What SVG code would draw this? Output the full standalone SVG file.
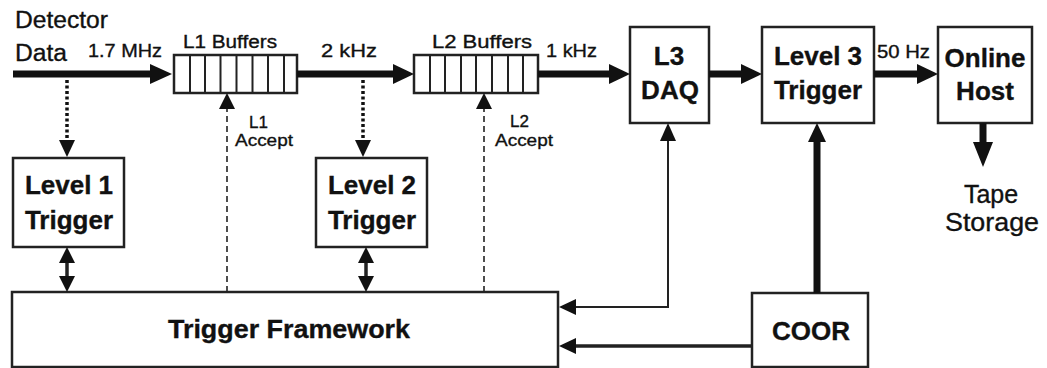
<svg xmlns="http://www.w3.org/2000/svg" width="1047" height="368" viewBox="0 0 1047 368">
<style>
.box{fill:#fff;stroke:#222;stroke-width:2.5}
.cell{stroke:#222;stroke-width:2}
.t{font-family:"Liberation Sans",Arial,sans-serif;fill:#111;stroke:#111;stroke-width:0.35}
.b{font-weight:bold;font-size:26px;text-anchor:middle}
.thick{stroke:#111;stroke-width:7;fill:none}
.dot{stroke:#111;stroke-width:3.5;stroke-dasharray:3 2.5;fill:none}
.dash{stroke:#222;stroke-width:1.6;stroke-dasharray:6 4;fill:none}
.thin{stroke:#222;stroke-width:2;fill:none}
.med{stroke:#222;stroke-width:3.5;fill:none}
.head{fill:#111}
</style>
<rect width="1047" height="368" fill="#fff"/>
<g id="labels">
<text class="t" x="15" y="28" font-size="23" textLength="93" lengthAdjust="spacingAndGlyphs">Detector</text>
<text class="t" x="15" y="61" font-size="23" textLength="52" lengthAdjust="spacingAndGlyphs">Data</text>
<text class="t" x="88" y="57" font-size="19" textLength="74" lengthAdjust="spacingAndGlyphs">1.7 MHz</text>
<text class="t" x="321" y="57" font-size="19" textLength="56" lengthAdjust="spacingAndGlyphs">2 kHz</text>
<text class="t" x="546" y="57" font-size="19" textLength="51" lengthAdjust="spacingAndGlyphs">1 kHz</text>
<text class="t" x="877" y="58" font-size="18" textLength="53" lengthAdjust="spacingAndGlyphs">50 Hz</text>
<text class="t" x="249" y="128" font-size="17">L1</text>
<text class="t" x="235" y="146" font-size="17" textLength="58" lengthAdjust="spacingAndGlyphs">Accept</text>
<text class="t" x="510" y="127" font-size="17">L2</text>
<text class="t" x="495" y="146" font-size="17" textLength="58" lengthAdjust="spacingAndGlyphs">Accept</text>
<text class="t" x="991" y="203" font-size="25" text-anchor="middle">Tape</text>
<text class="t" x="992" y="231" font-size="25" text-anchor="middle" textLength="94" lengthAdjust="spacingAndGlyphs">Storage</text>
</g>
<g id="l1buffers">
<text class="t" x="183" y="48" font-size="18" textLength="94" lengthAdjust="spacingAndGlyphs">L1 Buffers</text>
<rect class="box" x="174" y="55" width="123" height="38" stroke-width="2"/>
<path class="cell" d="M190 55V93M205 55V93M220.5 55V93M236.5 55V93M252.5 55V93M268 55V93M284 55V93"/>
</g>
<g id="l2buffers">
<text class="t" x="432" y="48" font-size="18" textLength="100" lengthAdjust="spacingAndGlyphs">L2 Buffers</text>
<rect class="box" x="414" y="55" width="124" height="38" stroke-width="2"/>
<path class="cell" d="M430 55V93M445 55V93M461 55V93M476 55V93M492 55V93M508 55V93M523 55V93"/>
</g>
<g id="level1">
<rect class="box" x="13" y="158" width="111" height="89"/>
<text class="t b" x="69" y="194">Level 1</text>
<text class="t b" x="69" y="229">Trigger</text>
</g>
<g id="level2">
<rect class="box" x="316" y="158" width="111" height="89"/>
<text class="t b" x="372" y="194">Level 2</text>
<text class="t b" x="372" y="229">Trigger</text>
</g>
<g id="l3daq">
<rect class="box" x="630" y="27" width="79" height="96"/>
<text class="t b" x="669" y="65">L3</text>
<text class="t b" x="670" y="99">DAQ</text>
</g>
<g id="level3">
<rect class="box" x="762" y="27" width="112" height="96"/>
<text class="t b" x="818" y="65">Level 3</text>
<text class="t b" x="818" y="99">Trigger</text>
</g>
<g id="online">
<rect class="box" x="938" y="27" width="94" height="96"/>
<text class="t b" x="985" y="67">Online</text>
<text class="t b" x="985" y="100">Host</text>
</g>
<g id="framework">
<rect class="box" x="12" y="292" width="546" height="75"/>
<text class="t b" x="289" y="338" textLength="242" lengthAdjust="spacingAndGlyphs">Trigger Framework</text>
</g>
<g id="coor">
<rect class="box" x="752" y="293" width="116" height="74"/>
<text class="t b" x="811" y="340">COOR</text>
</g>
<g id="connectors">
<path class="thick" d="M13 74H153"/>
<polygon class="head" points="150,64 172,74 150,84"/>
<path class="thick" d="M297 74H396"/>
<polygon class="head" points="393,64 414,74 393,84"/>
<path class="thick" d="M538 74H612"/>
<polygon class="head" points="609,64 630,74 609,84"/>
<path class="thick" d="M709 74H744"/>
<polygon class="head" points="741,64 762,74 741,84"/>
<path class="thick" d="M874 74H920"/>
<polygon class="head" points="917,64 938,74 917,84"/>
<path class="thick" d="M983 123V145"/>
<polygon class="head" points="973,142 983,167 993,142"/>
<path class="dot" d="M67 80V141"/>
<polygon class="head" points="59,140 67,157 75,140"/>
<path class="dot" d="M363 80V141"/>
<polygon class="head" points="355,140 363,157 371,140"/>
<path class="dash" d="M227 292V108"/>
<polygon class="head" points="219,109 227,93 235,109"/>
<path class="dash" d="M484 292V108"/>
<polygon class="head" points="476,109 484,93 492,109"/>
<path class="med" d="M67 260V280"/>
<polygon class="head" points="59,263 67,247 75,263"/>
<polygon class="head" points="59,276 67,292 75,276"/>
<path class="med" d="M366 260V280"/>
<polygon class="head" points="358,263 366,247 374,263"/>
<polygon class="head" points="358,276 366,292 374,276"/>
<path class="thin" d="M668 140V307H574"/>
<polygon class="head" points="660,141 668,123 676,141"/>
<polygon class="head" points="576,299 559,307 576,315"/>
<path class="med" d="M752 346H574" stroke-width="3"/>
<polygon class="head" points="576,338 559,346 576,354"/>
<path class="thick" d="M817 293V140" stroke-width="4.5"/>
<polygon class="head" points="808,142 817,123 826,142"/>
</g>
</svg>
